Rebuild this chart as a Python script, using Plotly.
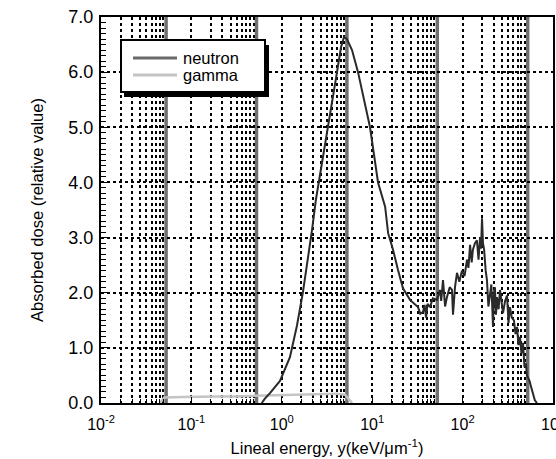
import numpy as np
import plotly.graph_objects as go

# ---- data ----
neutron_x = [0.60, 0.65, 0.74, 0.955, 1.23, 1.47, 1.71, 1.95, 2.16, 2.39, 2.6, 3.24, 4.08, 4.52, 4.88,
             5.26, 5.98, 6.97, 8.1, 9.46, 11.6, 13.9, 15.0, 17.0, 19.3, 21.9, 26.2, 29.0, 32.1, 34.0,
             36.5, 38.0, 39.4, 41.0, 43.6, 47.0, 52.1, 56.2, 58.0, 60.7, 64.0, 67.1, 72.0, 76.3, 78.3,
             82.4, 86.7, 92.0, 98.4, 105, 112, 116, 121, 126, 130, 137, 144, 150, 156, 160, 164, 168,
             173, 180, 186, 193, 201, 208, 217, 222, 228, 234, 240, 250, 259, 270, 280, 295, 310, 322,
             334, 350, 370, 385, 400, 415, 431, 448, 466, 484, 502, 515, 528, 550, 571, 601, 630, 665]
neutron_y = [0.0, 0.08, 0.18, 0.40, 0.83, 1.40, 2.00, 2.60, 3.14, 3.70, 4.05, 5.00, 6.00, 6.45, 6.64,
             6.60, 6.40, 6.00, 5.50, 5.00, 4.00, 3.56, 3.08, 2.78, 2.41, 2.08, 1.87, 1.80, 1.74, 1.62,
             1.65, 1.78, 1.55, 1.80, 1.74, 1.90, 1.87, 2.05, 1.85, 2.23, 1.75, 1.92, 2.10, 2.05, 1.60,
             2.10, 2.36, 2.20, 2.40, 2.30, 2.60, 2.45, 2.87, 2.55, 2.78, 2.90, 2.95, 2.60, 3.00, 2.80,
             3.35, 2.90, 2.78, 2.40, 2.23, 1.75, 2.00, 2.15, 1.38, 2.00, 2.10, 1.60, 1.92, 1.70, 2.05,
             1.80, 1.63, 1.85, 1.95, 1.45, 1.74, 1.55, 1.50, 1.25, 1.38, 1.05, 1.20, 0.90, 1.09, 0.65,
             0.72, 0.50, 0.47, 0.40, 0.30, 0.18, 0.05, 0.0]

gamma_x = [0.045, 0.05, 0.08, 0.12, 0.2, 0.3, 0.5, 0.7, 1.0, 1.5, 2.0, 3.0, 4.0, 5.0, 5.5, 6.0]
gamma_y = [0.0, 0.10, 0.11, 0.12, 0.12, 0.12, 0.13, 0.13, 0.14, 0.15, 0.16, 0.17, 0.17, 0.15, 0.08, 0.0]

decades = [-2, -1, 0, 1, 2, 3]
tick_text = ["10<sup>-2</sup>", "10<sup>-1</sup>", "10<sup>0</sup>", "10<sup>1</sup>",
             "10<sup>2</sup>", "10<sup>3</sup>"]
y_ticks = [0, 1, 2, 3, 4, 5, 6, 7]

legend_names = ["neutron", "gamma"]
legend_colors = ["#6a6a6a", "#c4c4c4"]

# ---- layout geometry ----
W, H = 556, 459
L, R, T, B = 101, 3, 17, 56
pw, ph = W - L - R, H - T - B
FONT = "Liberation Sans, Arial"

def px2paper(px, py):
    return (px - L) / pw, (H - B - py) / ph

# compressed minor grid pattern as in the original figure
squeeze = 0.72
minor_vals = []
for d in decades[:-1]:
    for k in range(2, 10):
        minor_vals.append(10 ** (d + squeeze * np.log10(k)))
dark_vals = [10 ** (d + squeeze) for d in decades[:-1]]

fig = go.Figure()

fig.add_trace(go.Scatter(x=gamma_x, y=gamma_y, mode="lines", name=legend_names[1],
                         line=dict(color=legend_colors[1], width=2.5), showlegend=False))
fig.add_trace(go.Scatter(x=neutron_x, y=neutron_y, mode="lines", name=legend_names[0],
                         line=dict(color="#2a2a2a", width=2), showlegend=False))

shapes = []
for v in dark_vals:
    shapes.append(dict(type="line", xref="x", yref="paper", x0=v, x1=v, y0=0, y1=1,
                       line=dict(color="#707070", width=3.5), layer="below"))

# legend box with shadow
bx0, by0 = px2paper(121, 40)
bx1, by1 = px2paper(265, 92)
sx0, sy0 = px2paper(124, 45)
sx1, sy1 = px2paper(269, 97)
shapes.append(dict(type="rect", xref="paper", yref="paper", x0=sx0, x1=sx1, y0=sy1, y1=sy0,
                   fillcolor="black", line=dict(width=0)))
shapes.append(dict(type="rect", xref="paper", yref="paper", x0=bx0, x1=bx1, y0=by1, y1=by0,
                   fillcolor="white", line=dict(color="black", width=2)))
annotations = []
for i, (nm, col) in enumerate(zip(legend_names, legend_colors)):
    py = 58 + 17 * i
    lx0, ly = px2paper(133, py)
    lx1, _ = px2paper(177, py)
    shapes.append(dict(type="line", xref="paper", yref="paper", x0=lx0, x1=lx1, y0=ly, y1=ly,
                       line=dict(color=col, width=3)))
    tx, _ = px2paper(181, py)
    annotations.append(dict(x=tx, y=ly, xref="paper", yref="paper", text=nm, showarrow=False,
                            xanchor="left", yanchor="middle",
                            font=dict(size=16.5, color="black", family=FONT)))

fig.update_layout(
    width=W, height=H, margin=dict(l=L, r=R, t=T, b=B, autoexpand=False),
    paper_bgcolor="white", plot_bgcolor="white",
    font=dict(family=FONT, color="black"),
    shapes=shapes, annotations=annotations, showlegend=False,
    xaxis=dict(type="log", range=[-2, 3], tickvals=[10 ** d for d in decades], ticktext=tick_text,
               showgrid=True, gridcolor="black", griddash="dot", gridwidth=1.5,
               ticks="inside", ticklen=6, tickcolor="black", ticklabeloverflow="allow",
               ticklabelstandoff=6, automargin=False,
               minor=dict(tickvals=minor_vals, showgrid=True, gridcolor="black", griddash="dot",
                          gridwidth=1.5, ticks="inside", ticklen=4, tickcolor="black"),
               showline=True, linecolor="black", linewidth=2, mirror=True,
               tickfont=dict(size=16), zeroline=False,
               title=dict(text="Lineal energy, y(keV/μm<sup>-1</sup>)", font=dict(size=16.5), standoff=10)),
    yaxis=dict(range=[0, 7], tickvals=y_ticks, tickformat=".1f", automargin=False,
               showgrid=True, gridcolor="black", griddash="dot", gridwidth=1.5,
               ticks="inside", ticklen=7, tickcolor="black", ticklabelstandoff=2,
               minor=dict(dtick=0.1, ticks="inside", ticklen=5, tickcolor="black", showgrid=False),
               showline=True, linecolor="black", linewidth=2, mirror=True,
               tickfont=dict(size=18), zeroline=False,
               title=dict(text="Absorbed dose (relative value)", font=dict(size=16.5), standoff=21)),
)

fig.write_html("out.html")
